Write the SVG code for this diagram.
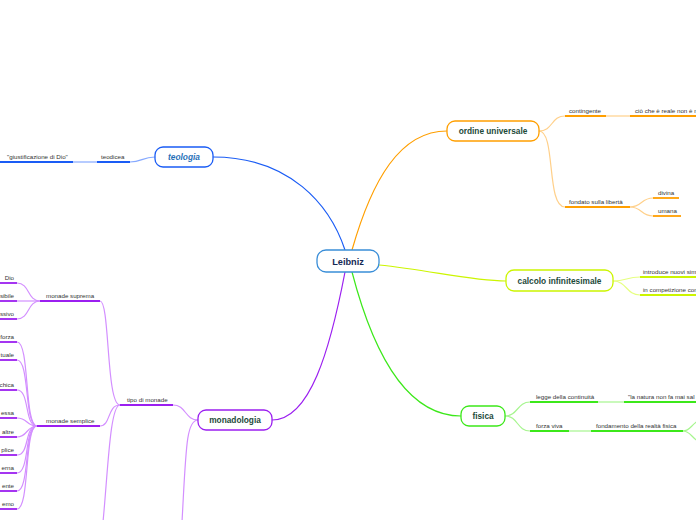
<svg xmlns="http://www.w3.org/2000/svg" width="696" height="520" viewBox="0 0 696 520">
<style>
.node{fill:#fff;stroke-width:1.3}
.nt{font-family:"Liberation Sans",Arial,sans-serif;font-weight:bold;font-size:8.3px;fill:#1d4a3a;text-anchor:middle}
.lb{font-family:"Liberation Sans",Arial,sans-serif;font-size:6.2px;fill:#333}
.lbe{font-family:"Liberation Sans",Arial,sans-serif;font-size:6.2px;fill:#333;text-anchor:end}
.c{fill:none;stroke-width:1.2}
.u{fill:none;stroke-width:1.8}
.blue{stroke:#1a5cf5}.blueL{stroke:#86a9ff}
.or{stroke:#ff9f00}.orL{stroke:#ffd08a}
.yl{stroke:#ccf500}.ylL{stroke:#e6ff80}
.gr{stroke:#3ce81a}.grL{stroke:#a6f58e}
.pu{stroke:#9b1ff0}.puL{stroke:#d38fff}
</style>
<rect width="696" height="520" fill="#fff"/>
<g id="connectors">
  <path class="c blue" d="M213,157 C290,157 330,205 345,250"/>
  <path class="c or" d="M352,250 C372,180 400,131 447,131"/>
  <path class="c yl" d="M379,265 C430,270 470,281 506,281"/>
  <path class="c gr" d="M352,272 C375,360 410,416 461,416"/>
  <path class="c pu" d="M345,272 C330,350 310,420 272,420"/>
  <path class="c blueL" d="M155,157 C142,157 142,162 130,162"/>
  <path class="u blue" d="M97,162 H130"/>
  <path class="c blueL" d="M73,162 H97"/>
  <path class="u blue" d="M0,162 H73"/>
  <path class="c orL" d="M539,131 C553,131 551,116 565,116"/>
  <path class="c orL" d="M539,131 C556,131 546,207 565,207"/>
  <path class="u or" d="M565,116 H606"/>
  <path class="c orL" d="M606,116 H630"/>
  <path class="u or" d="M630,116 H696"/>
  <path class="u or" d="M565,207 H630"/>
  <path class="c orL" d="M630,207 C642,207 641,198 653,198"/>
  <path class="c orL" d="M630,207 C642,207 641,216 653,216"/>
  <path class="u or" d="M653,198 H679"/>
  <path class="u or" d="M653,216 H681"/>
  <path class="c ylL" d="M613,281 C627,281 626,277 640,277"/>
  <path class="c ylL" d="M613,281 C627,281 626,295 640,295"/>
  <path class="u yl" d="M640,277 H696"/>
  <path class="u yl" d="M640,295 H696"/>
  <path class="c grL" d="M505,416 C518,416 517,402 530,402"/>
  <path class="c grL" d="M505,416 C518,416 517,431 530,431"/>
  <path class="u gr" d="M530,402 H598"/>
  <path class="c grL" d="M598,402 H624"/>
  <path class="u gr" d="M624,402 H696"/>
  <path class="u gr" d="M530,431 H569"/>
  <path class="c grL" d="M569,431 H591"/>
  <path class="u gr" d="M591,431 H683"/>
  <path class="c grL" d="M683,431 C690,431 691,425 698,421"/>
  <path class="c grL" d="M683,431 C690,431 691,437 698,441"/>
  <path class="c puL" d="M198,420 C185,420 186,405 173,405"/>
  <path class="c puL" d="M198,420 C186,420 186,450 182,522"/>
  <path class="u pu" d="M120,405 H173"/>
  <path class="c puL" d="M120,405 C106,405 110,301 100,301"/>
  <path class="c puL" d="M120,405 C107,405 111,426 100,426"/>
  <path class="c puL" d="M120,405 C110,405 108,470 103,522"/>
  <path class="u pu" d="M40,301 H100"/>
  <path class="u pu" d="M37,426 H100"/>
  <path class="c puL" d="M40,301 C27,301 30,283 17,283"/>
  <path class="c puL" d="M40,301 H17"/>
  <path class="c puL" d="M40,301 C27,301 30,319 17,319"/>
  <path class="u pu" d="M0,283 H17"/>
  <path class="u pu" d="M0,301 H17"/>
  <path class="u pu" d="M0,319 H17"/>
  <path class="c puL" d="M37,426 C24,426 30,342 17,342"/>
  <path class="c puL" d="M37,426 C24,426 30,360 17,360"/>
  <path class="c puL" d="M37,426 C24,426 30,390 17,390"/>
  <path class="c puL" d="M37,426 C26,426 28,418 17,418"/>
  <path class="c puL" d="M37,426 C26,426 28,437 17,437"/>
  <path class="c puL" d="M37,426 C24,426 30,455 17,455"/>
  <path class="c puL" d="M37,426 C24,426 30,473 17,473"/>
  <path class="c puL" d="M37,426 C24,426 30,491 17,491"/>
  <path class="c puL" d="M37,426 C24,426 30,509 17,509"/>
  <path class="u pu" d="M0,342 H17"/>
  <path class="u pu" d="M0,360 H17"/>
  <path class="u pu" d="M0,390 H17"/>
  <path class="u pu" d="M0,418 H17"/>
  <path class="u pu" d="M0,437 H17"/>
  <path class="u pu" d="M0,455 H17"/>
  <path class="u pu" d="M0,473 H17"/>
  <path class="u pu" d="M0,491 H17"/>
  <path class="u pu" d="M0,509 H17"/>
</g>
<g id="leibniz">
  <rect class="node" x="317" y="250" width="62" height="22" rx="9" stroke="#3a8ed8"/>
  <text x="348" y="264.5" class="nt" style="fill:#152a55;font-size:9.2px">Leibniz</text>
</g>
<g id="teologia">
  <rect class="node" x="155" y="147" width="58" height="20" rx="8" stroke="#1a5cf5"/>
  <text x="184" y="160" class="nt" style="fill:#1f6fb8;font-style:italic">teologia</text>
</g>
<g id="teodicea"><text x="101" y="159" class="lb">teodicea</text></g>
<g id="giustificazione"><text x="7" y="159" class="lb">"giustificazione di Dio"</text></g>
<g id="ordine">
  <rect class="node" x="447" y="121" width="92" height="20" rx="8" stroke="#ff9f00"/>
  <text x="493" y="134" class="nt">ordine universale</text>
</g>
<g id="contingente"><text x="569" y="112.5" class="lb">contingente</text></g>
<g id="reale"><text x="635" y="112.5" class="lb">ciò che è reale non è n</text></g>
<g id="fondato"><text x="569" y="203.5" class="lb">fondato sulla libertà</text></g>
<g id="divina"><text x="658" y="194.5" class="lb">divina</text></g>
<g id="umana"><text x="658" y="212.5" class="lb">umana</text></g>
<g id="calcolo">
  <rect class="node" x="506" y="270" width="107" height="21" rx="8" stroke="#ccf500"/>
  <text x="559.5" y="283.5" class="nt">calcolo infinitesimale</text>
</g>
<g id="simboli"><text x="643" y="273.5" class="lb">introduce nuovi sim</text></g>
<g id="competizione"><text x="643" y="291.5" class="lb">in competizione con</text></g>
<g id="fisica">
  <rect class="node" x="461" y="406" width="44" height="20" rx="8" stroke="#3ce81a"/>
  <text x="483" y="419" class="nt">fisica</text>
</g>
<g id="continuita"><text x="536" y="398.5" class="lb">legge della continuità</text></g>
<g id="natura"><text x="628" y="398.5" class="lb">"la natura non fa mai sal</text></g>
<g id="forzaviva"><text x="536" y="427.5" class="lb">forza viva</text></g>
<g id="fondamento"><text x="596" y="427.5" class="lb">fondamento della realtà fisica</text></g>
<g id="monadologia">
  <rect class="node" x="198" y="410" width="74" height="20" rx="8" stroke="#9b1ff0"/>
  <text x="235" y="423" class="nt">monadologia</text>
</g>
<g id="tipo"><text x="127" y="401.5" class="lb">tipo di monade</text></g>
<g id="suprema"><text x="46" y="297.5" class="lb">monade suprema</text></g>
<g id="semplice"><text x="46" y="422.5" class="lb">monade semplice</text></g>
<g id="s1"><text x="14" y="279.5" class="lbe">Dio</text></g>
<g id="s2"><text x="14" y="297.5" class="lbe">sibile</text></g>
<g id="s3"><text x="14" y="315.5" class="lbe">ssivo</text></g>
<g id="m1"><text x="14" y="338.5" class="lbe">forza</text></g>
<g id="m2"><text x="14" y="356.5" class="lbe">tuale</text></g>
<g id="m3"><text x="14" y="386.5" class="lbe">chica</text></g>
<g id="m4"><text x="14" y="414.5" class="lbe">essa</text></g>
<g id="m5"><text x="14" y="433.5" class="lbe">altre</text></g>
<g id="m6"><text x="14" y="451.5" class="lbe">plice</text></g>
<g id="m7"><text x="14" y="469.5" class="lbe">erna</text></g>
<g id="m8"><text x="14" y="487.5" class="lbe">ente</text></g>
<g id="m9"><text x="14" y="505.5" class="lbe">emo</text></g>
</svg>
